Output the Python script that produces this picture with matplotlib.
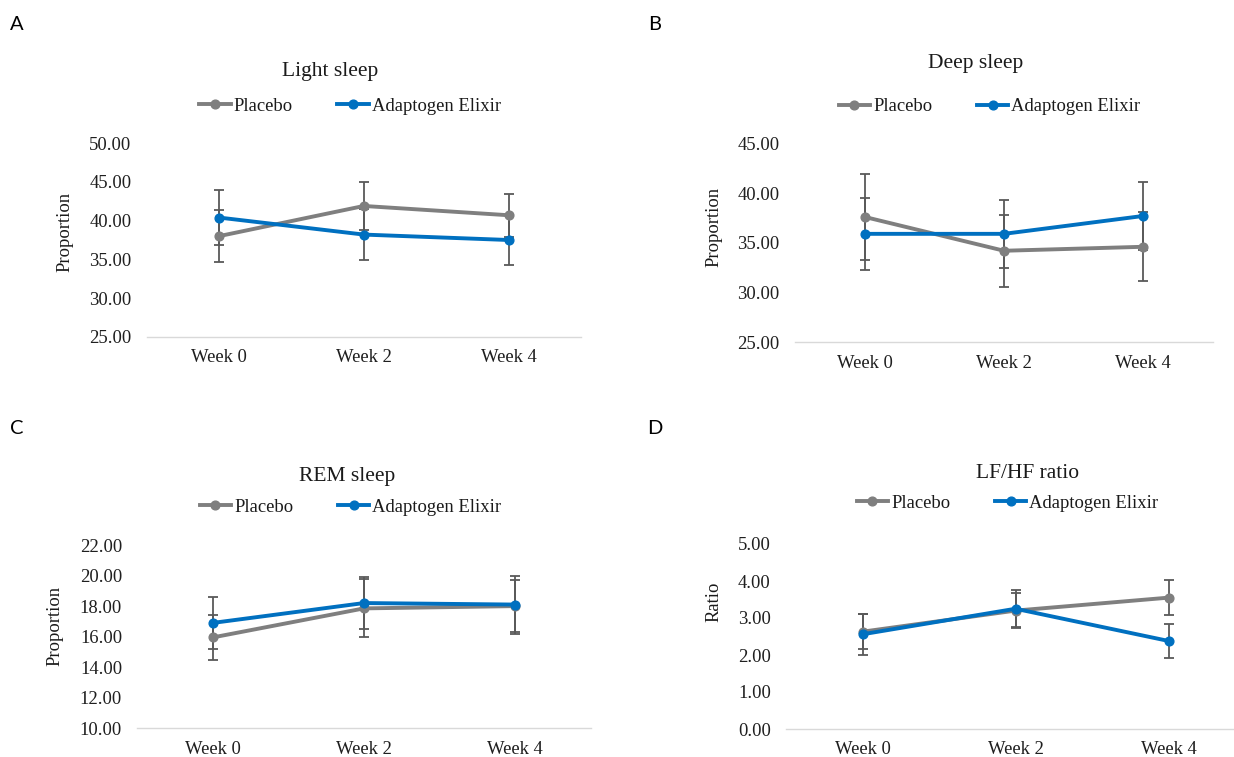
import matplotlib
matplotlib.use("Agg")
import matplotlib.pyplot as plt
from matplotlib.lines import Line2D

W, H = 1234, 757

weeks = ["Week 0", "Week 2", "Week 4"]

light_placebo = [38.0, 41.9, 40.7]
light_placebo_err = [3.4, 3.1, 2.8]
light_elixir = [40.4, 38.2, 37.5]
light_elixir_err = [3.6, 3.3, 3.2]

deep_placebo = [37.6, 34.2, 34.6]
deep_placebo_err = [4.3, 3.6, 3.45]
deep_elixir = [35.9, 35.9, 37.7]
deep_elixir_err = [3.6, 3.45, 3.4]

rem_placebo = [15.95, 17.85, 18.0]
rem_placebo_err = [1.45, 1.9, 1.72]
rem_elixir = [16.9, 18.2, 18.1]
rem_elixir_err = [1.68, 1.72, 1.9]

lfhf_placebo = [2.63, 3.2, 3.55]
lfhf_placebo_err = [0.47, 0.48, 0.48]
lfhf_elixir = [2.56, 3.25, 2.38]
lfhf_elixir_err = [0.55, 0.5, 0.45]

gris = "#7f7f7f"
azul = "#0070c0"
err_col = "#595959"
serif = "Liberation Serif"

plt.rcParams['font.family'] = serif

fig = plt.figure(figsize=(W / 100, H / 100), dpi=100)


def fx(px):
    return px / W


def fy(py):
    return 1 - py / H


def panel(box, letter, letter_xy, title, title_xy, legend_xy, ylabel, ylabel_xy,
          ylim, step, placebo, placebo_err, elixir, elixir_err, fmt="{:.2f}"):
    x0, y0, x1, y1 = box
    ax = fig.add_axes([fx(x0), fy(y1), fx(x1) - fx(x0), fy(y0) - fy(y1)])
    x = range(len(weeks))
    ax.errorbar(x, placebo, yerr=placebo_err, fmt="none", ecolor=err_col,
                elinewidth=1.3, capsize=3.4, capthick=1.3, zorder=1)
    ax.errorbar(x, elixir, yerr=elixir_err, fmt="none", ecolor=err_col,
                elinewidth=1.3, capsize=3.4, capthick=1.3, zorder=1)
    ax.plot(x, placebo, color=gris, lw=2.8, marker="o", ms=6.3, zorder=3)
    ax.plot(x, elixir, color=azul, lw=2.8, marker="o", ms=6.3, zorder=4)
    ax.set_xlim(-0.5, 2.5)
    ax.set_ylim(*ylim)
    ticks = []
    t = ylim[0]
    while t <= ylim[1] + 1e-9:
        ticks.append(t)
        t += step
    ax.set_yticks(ticks)
    ax.set_yticklabels([fmt.format(v) for v in ticks])
    ax.set_xticks(list(x))
    ax.set_xticklabels(weeks)
    for s in ["top", "right", "left"]:
        ax.spines[s].set_visible(False)
    ax.spines["bottom"].set_color("#d9d9d9")
    ax.spines["bottom"].set_linewidth(1.0)
    ax.tick_params(axis="y", length=0, pad=11, labelsize=13.4, labelcolor="#1f1f1f")
    ax.tick_params(axis="x", length=0, pad=9, labelsize=13.4, labelcolor="#1f1f1f")

    fig.text(fx(letter_xy[0]), fy(letter_xy[1]), letter, family="Lato",
             fontsize=14.5, ha="center", va="center")
    fig.text(fx(title_xy[0]), fy(title_xy[1]), title, fontsize=15.5,
             ha="center", va="center", color="#1a1a1a")
    fig.text(fx(ylabel_xy[0]), fy(ylabel_xy[1]), ylabel, fontsize=13.4,
             rotation=90, ha="center", va="center", color="#1a1a1a")

    handles = [Line2D([], [], color=gris, lw=2.8, marker="o", ms=6.3),
               Line2D([], [], color=azul, lw=2.8, marker="o", ms=6.3)]
    fig.legend(handles, ["Placebo", "Adaptogen Elixir"], loc="center",
               bbox_to_anchor=(fx(legend_xy[0]), fy(legend_xy[1])), ncol=2,
               frameon=False, fontsize=13.4, handlelength=1.7,
               handletextpad=0.15, columnspacing=2.4, borderpad=0,
               labelcolor="#1a1a1a")
    return ax


panel((146.7, 143.3, 581, 336.7), "A", (17, 25), "Light sleep", (330, 71.7),
      (350, 106), "Proportion", (65, 231.7), (25, 50), 5,
      light_placebo, light_placebo_err, light_elixir, light_elixir_err)

panel((795, 143.3, 1213, 342.3), "B", (655, 25), "Deep sleep", (976, 63.3),
      (989.5, 106.7), "Proportion", (714, 226.7), (25, 45), 5,
      deep_placebo, deep_placebo_err, deep_elixir, deep_elixir_err)

panel((137.3, 545, 590.6, 728.3), "C", (17, 428), "REM sleep", (347, 476),
      (350.5, 507.3), "Proportion", (55, 626), (10, 22), 2,
      rem_placebo, rem_placebo_err, rem_elixir, rem_elixir_err)

panel((786, 544, 1245, 729), "D", (655, 428), "LF/HF ratio", (1028, 474),
      (1007.5, 503.3), "Ratio", (714, 601.7), (0, 5), 1,
      lfhf_placebo, lfhf_placebo_err, lfhf_elixir, lfhf_elixir_err)

fig.savefig("out.png", dpi=100, facecolor="white")
